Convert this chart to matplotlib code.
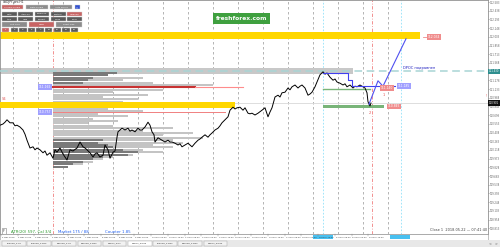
import numpy as np
import matplotlib.pyplot as plt
from matplotlib.patches import Rectangle

plt.rcParams['font.family'] = 'DejaVu Sans'

# USDJPY H1 closes, x = bar index
bar = [0, 3, 5, 7, 10, 13, 15, 17, 20, 23, 25, 27, 30, 33, 35, 37, 40, 43, 45, 47,
       50, 53, 55, 57, 60, 63, 65, 67, 70, 73, 77, 80, 83, 85, 87, 90, 93, 95, 97, 100,
       103, 105, 108, 110, 113, 115, 117, 118, 120, 122, 125, 128, 130, 132, 135, 138, 140, 142, 145, 148,
       150, 152, 154, 155, 158, 160, 162, 165, 168, 170, 172, 175, 178, 180, 182, 185, 188, 190, 192, 195,
       198, 200, 202, 205, 208, 210, 212, 215, 218, 220, 222, 225, 228, 230, 233, 235, 237, 240, 243, 245,
       248, 250, 252, 255, 258, 262, 265, 268, 270, 272, 275, 278, 280, 282, 285, 288, 290, 292, 295, 298,
       300, 302, 305, 308, 310, 312, 315, 317, 320, 323, 325, 327, 330, 333, 335, 337, 340, 343, 345, 347,
       350, 353, 355, 357, 360, 363, 365, 367, 368, 370, 371]
close = [110.53, 110.55, 110.58, 110.62, 110.57, 110.57, 110.52, 110.53, 110.50, 110.45, 110.38, 110.28, 110.15, 110.17, 110.12, 110.15, 110.12, 110.07, 110.10, 110.03,
         110.07, 109.98, 110.12, 110.08, 110.15, 110.05, 110.00, 109.95, 110.12, 110.10, 110.15, 110.25, 110.17, 110.15, 110.12, 110.07, 110.00, 110.05, 110.07, 110.00,
         110.03, 110.20, 110.12, 109.98, 110.08, 110.10, 110.33, 110.42, 110.45, 110.48, 110.45, 110.48, 110.43, 110.45, 110.42, 110.48, 110.45, 110.45, 110.50, 110.58,
         110.53, 110.42, 110.37, 110.25, 110.32, 110.30, 110.28, 110.25, 110.28, 110.25, 110.25, 110.23, 110.20, 110.22, 110.17, 110.20, 110.23, 110.20, 110.17, 110.23,
         110.28, 110.30, 110.33, 110.37, 110.33, 110.37, 110.40, 110.45, 110.48, 110.52, 110.57, 110.62, 110.67, 110.78, 110.83, 110.80, 110.82, 110.83, 110.78, 110.82,
         110.73, 110.72, 110.73, 110.70, 110.73, 110.78, 110.82, 110.67, 110.75, 110.82, 111.00, 111.03, 111.00, 111.07, 111.08, 111.15, 111.12, 111.17, 111.20, 111.15,
         111.18, 111.20, 111.15, 111.03, 111.05, 111.08, 111.17, 111.25, 111.37, 111.42, 111.38, 111.40, 111.33, 111.28, 111.30, 111.25, 111.23, 111.20, 111.22, 111.17,
         111.20, 111.15, 111.18, 111.17, 111.20, 111.17, 111.15, 111.07, 110.92, 110.85, 110.90]

# volume profile rows
vp_price = [111.40, 111.36, 111.32, 111.28, 111.24, 111.20, 111.16, 111.12, 111.08, 111.04,
            111.00, 110.96, 110.92, 110.88, 110.84, 110.80, 110.76, 110.72, 110.68, 110.64,
            110.60, 110.56, 110.52, 110.48, 110.44, 110.40, 110.36, 110.32, 110.28, 110.24,
            110.20, 110.16, 110.12, 110.08, 110.04, 110.00, 109.96, 109.92, 109.88, 109.84]
vp_total = [64, 55, 90, 70, 100, 160, 75, 110, 60, 95, 50, 85, 70, 140, 100, 55, 90, 45, 75, 40,
            65, 35, 60, 120, 90, 140, 110, 150, 120, 130, 100, 120, 90, 110, 80, 60, 50, 40, 30, 15]
vp_dark = [64, 55, 40, 35, 30, 0, 0, 0, 0, 0, 0, 0, 0, 0, 0, 0, 0, 0, 0, 0,
           0, 0, 0, 0, 0, 0, 0, 0, 50, 45, 55, 60, 70, 85, 75, 50, 40, 30, 20, 15]
vp_start = 53

# levels and zones
upper_zone = [111.97, 112.08]
gray_zone = [111.38, 111.48]
lower_zone = [110.82, 110.92]
dpoc_level = 111.43
poc_level = 111.165
val_level = 110.75
bid_level = 110.90
green_thin = 111.13
green_thick = [110.82, 110.87]
struct_x = [323, 348, 348, 352, 352, 395]
struct_y = [111.40, 111.40, 111.28, 111.28, 111.18, 111.18]
fcst_x = [369, 378, 383, 406]
fcst_y = [110.88, 111.27, 111.18, 111.97]

time_labels = ["2 May 2018", "2 May 16:00", "3 May 08:00", "4 May 00:00", "4 May 16:00",
               "7 May 08:00", "8 May 00:00", "8 May 16:00", "9 May 08:00", "10 May 00:00",
               "10 May 16:00", "11 May 08:00", "14 May 00:00", "14 May 16:00", "15 May 08:00",
               "16 May 00:00", "16 May 16:00", "17 May 08:00", "18 May 00:00", "18 May 16:00",
               "21 May 08:00", "22 May 00:00", "22 May 16:00"]
tabs = ["EURUSD_a,H1", "EURUSD_a,M15", "GBPUSD_a,H1", "GBPUSD_a,M30", "USDJPY_a,H1",
        "USDJPY_a,M15", "EURUSD_a,M30", "GBPUSD_a,M30", "USDJPY_a,M30"]

fig = plt.figure(figsize=(5, 2.47), dpi=100)
ax = fig.add_axes([0, 13 / 247, 488 / 500, 234 / 247])
ax.set_xlim(0, 488)
ax.set_ylim(108.7167, 112.6167)

# grid
for gx in np.arange(12.7, 390, 25):
    ax.axvline(gx, color='#a8a8a8', lw=0.6, ls=(0, (3, 3)), zorder=1)
for gx in [323, 401]:
    ax.axvline(gx, color='#90e0f8', lw=0.6, ls=(0, (2, 2)), zorder=1)
for gx in [53, 372]:
    ax.axvline(gx, color='#f08080', lw=0.6, ls=(0, (4, 2, 1, 2)), zorder=1)

# zones
ax.fill_between([0, 420], upper_zone[0], upper_zone[1], color='#ffd700', lw=0, zorder=2)
ax.fill_between([0, 353], gray_zone[0], gray_zone[1], color='#c8c8c8', lw=0, zorder=2)

# volume profile
ax.barh(vp_price, vp_total, left=vp_start, height=0.036, color='#c4c4c4', lw=0, zorder=3)
ax.barh(vp_price, vp_dark, left=vp_start, height=0.036, color='#7a7a7a', lw=0, zorder=3)

ax.fill_between([0, 235], lower_zone[0], lower_zone[1], color='#ffd700', lw=0, zorder=4)
ax.fill_between([323, 384], green_thick[0], green_thick[1], color='#78b478', lw=0, zorder=4)
ax.plot([323, 370], [green_thin] * 2, color='#78b478', lw=1.0, zorder=4)

ax.plot([0, 488], [dpoc_level] * 2, color='#a8d4d4', lw=1.1, ls=(0, (5, 3)), zorder=4)
ax.plot([0, 488], [bid_level] * 2, color='#d8d8d8', lw=0.6, zorder=2)
ax.plot([vp_start, 195], [poc_level] * 2, color='#c83232', lw=1.5, zorder=5)
ax.plot([195, 243], [poc_level] * 2, color='#ff8c8c', lw=0.8, zorder=5)
ax.plot([vp_start, 225], [val_level] * 2, color='#f08080', lw=0.7, zorder=5)

ax.plot(bar, close, color='black', lw=0.7, zorder=6)
ax.plot(struct_x, struct_y, color='#4040f0', lw=0.8, zorder=6)
ax.plot(fcst_x, fcst_y, color='#5050f0', lw=0.8, zorder=6)


def tag(x, y, s, fc):
    ax.text(x, y, s, fontsize=2.2, color='white', va='center', ha='left', zorder=8,
            bbox=dict(boxstyle='square,pad=0.25', fc=fc, ec='none'))


tag(428, 112.00, "112.034", '#f08c8c')
tag(397.5, 111.18, "111.185", '#a0a0ff')
tag(380.5, 111.15, "111.140", '#f08c8c')
tag(387.5, 110.845, "110.845", '#f08c8c')
tag(39, poc_level, "111.165", '#a0a0ff')
tag(39, val_level, "110.757", '#a0a0ff')
ax.plot([423, 427], [112.00] * 2, color='#f08c8c', lw=0.6, zorder=7)
ax.text(2, 110.95, "S4", fontsize=2.6, color='#e06060', zorder=8)
ax.text(382.5, 111.02, "1", fontsize=2.6, color='#e05050', zorder=8)
ax.text(369, 110.72, "2", fontsize=2.6, color='#e05050', zorder=8)
ax.text(403, 111.47, "DPOC подравнен", fontsize=2.6, color='#2020c0', zorder=8)
ax.text(487, 108.78, "Close 1  2018.05.22 — 07:41:40", fontsize=2.5, color='#404040',
        ha='right', va='center', zorder=8)
ax.text(11, 108.755, "ATR(20) 597, Cal 3/4", fontsize=2.8, color='#2e9a2e', va='center', zorder=8)
ax.text(58, 108.755, "Market 175 / 88", fontsize=2.8, color='#2060f0', va='center', zorder=8)
ax.text(105, 108.755, "Counter 1.85", fontsize=2.8, color='#2060f0', va='center', zorder=8)
ax.text(2.5, 108.76, "F", fontsize=2.4, color='#404040', va='center', zorder=8,
        bbox=dict(boxstyle='square,pad=0.3', fc='white', ec='#808080', lw=0.4))

# price scale on the right
ticks = 112.583 - 0.145 * np.arange(27)
ax.yaxis.tick_right()
ax.set_yticks(ticks)
ax.set_yticklabels(['%.3f' % t for t in ticks])
ax.tick_params(axis='y', labelsize=1.85, colors='#606060', length=1.0, width=0.4, pad=0.4)
ax.set_xticks([])
for sp in ax.spines.values():
    sp.set_color('#909090')
    sp.set_linewidth(0.6)
ax.text(489, dpoc_level, "111.430", fontsize=1.85, color='white', va='center',
        clip_on=False, zorder=9, bbox=dict(boxstyle='square,pad=0.2', fc='#2f8f8f', ec='none'))
ax.text(489, bid_level, "110.901", fontsize=1.85, color='white', va='center',
        clip_on=False, zorder=9, bbox=dict(boxstyle='square,pad=0.2', fc='#101010', ec='none'))
ax.text(486, 111.0, "!", fontsize=2.6, color='#e05050', ha='center', zorder=8)

# overlay in pixel space for terminal interface pieces
ui = fig.add_axes([0, 0, 1, 1], zorder=10)
ui.set_xlim(0, 500)
ui.set_ylim(247, 0)
ui.axis('off')
ui.patch.set_alpha(0)


def btn(x0, x1, y0, y1, fc, s, tc='white'):
    ui.add_patch(Rectangle((x0, y0), x1 - x0, y1 - y0, fc=fc, ec='#d0d0d0', lw=0.3))
    ui.text((x0 + x1) / 2, (y0 + y1) / 2, s, fontsize=1.6, color=tc, ha='center', va='center')


ui.text(3, 1.6, "USDJPY,pro,H1", fontsize=2.2, color='#303030', va='center')
btn(2, 23, 5, 9, '#c86464', "Volume Profile")
btn(26, 48, 5, 9, '#8c8c8c', "Data Profile")
btn(50, 72, 5, 9, '#8c8c8c', "Auto Profile")
btn(75, 80, 5, 9, '#3050d0', "[-]")
row2 = ["Data", "Intervals", "Common", "Custom", "Ungroup"]
row3 = ["Step", "Hide", "Correct", "Mode", "Color"]
for i in range(5):
    x0 = 2 + 16.3 * i
    btn(x0, x0 + 14.8, 12, 16, '#c86464' if i == 4 else '#5a5a5a', row2[i])
    btn(x0, x0 + 14.8, 17, 21, '#5a5a5a', row3[i])
btn(2, 27, 22.5, 27, '#8c8c8c', "Left Side")
btn(28.5, 54, 22.5, 27, '#c86464', "Draw")
btn(56, 82, 22.5, 27, '#8c8c8c', "Right Side")
steps = ["1", "2", "3", "5", "7", "10", "15", "20", "25"]
for i, s in enumerate(steps):
    x0 = 2 + 8.6 * i
    btn(x0, x0 + 7.4, 28, 32, '#c86464' if i == 0 else '#5a5a5a', s)

# watermark
ui.add_patch(Rectangle((213, 13), 57, 11, fc='#3fa03f', ec='none'))
ui.text(241.5, 18.5, "freshforex.com", fontsize=4.3, color='white', ha='center', va='center',
        fontweight='bold')

# time axis row
ui.add_patch(Rectangle((0, 234), 488, 6, fc='white', ec='#909090', lw=0.4))
for i, s in enumerate(time_labels):
    x0 = 1.7 + 16.7 * i
    ui.plot([x0 - 0.8, x0 - 0.8], [234, 236], color='#808080', lw=0.3)
    ui.text(x0, 237.2, s, fontsize=1.5, color='#404040', va='center')
ui.add_patch(Rectangle((313, 234.6), 20, 4.6, fc='#48c0f0', ec='none'))
ui.add_patch(Rectangle((390, 234.6), 20, 4.6, fc='#48c0f0', ec='none'))

# tabs
ui.add_patch(Rectangle((0, 240), 500, 7, fc='#e8e8e8', ec='none'))
for i, s in enumerate(tabs):
    x0 = 2 + 25.2 * i
    active = i == 5
    ui.add_patch(Rectangle((x0, 240.5), 23.5, 5.5, fc='white' if active else '#f2f2f2',
                           ec='#a0a0a0', lw=0.3))
    ui.text(x0 + 11.75, 243.3, s, fontsize=1.5, color='#303030', ha='center', va='center')
ui.text(489, 243.5, "<", fontsize=2.4, color='#606060', va='center')
ui.text(495, 243.5, ">", fontsize=2.4, color='#606060', va='center')

fig.savefig('out.png', dpi=100)
